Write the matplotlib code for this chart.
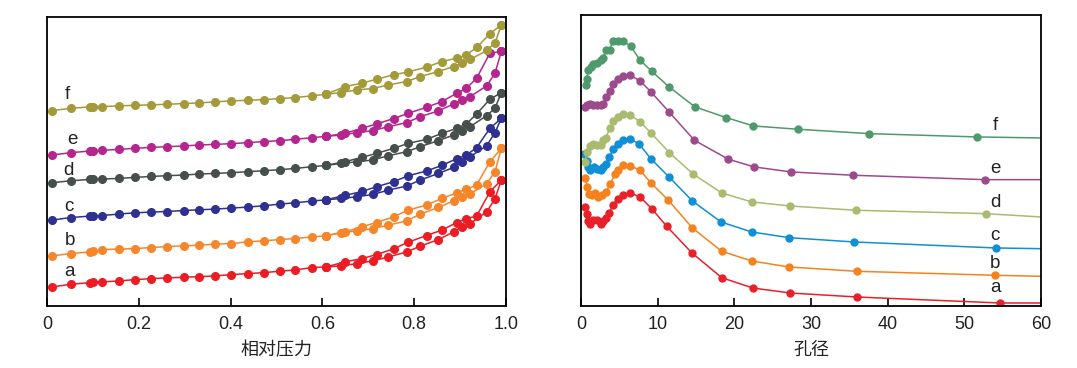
import matplotlib
matplotlib.use('Agg')
import matplotlib.pyplot as plt

plt.rcParams['font.family'] = ['Liberation Sans', 'Noto Sans CJK SC', 'DejaVu Sans']

labels = ['a', 'b', 'c', 'd', 'e', 'f']

# ---- left: isotherms (relative pressure vs adsorbed amount, arbitrary offset units)
iso_colors = ['#ec1c24', '#f7862a', '#2e3192', '#474f4c', '#b5258f', '#a39a3a']

x_low = [0.011, 0.052, 0.094, 0.100, 0.120, 0.156, 0.191, 0.227, 0.261, 0.298, 0.332,
         0.366, 0.401, 0.437, 0.472, 0.507, 0.541, 0.577, 0.608]
x_ads = [0.608, 0.641, 0.675, 0.710, 0.744, 0.784, 0.813, 0.853, 0.886, 0.904, 0.922,
         0.958, 0.976, 0.990]
x_des = [0.990, 0.965, 0.936, 0.914, 0.893, 0.860, 0.827, 0.787, 0.755, 0.718, 0.686,
         0.649, 0.608]

low_a = [19, 21.7, 23.3, 23.7, 24, 25, 26.3, 27.3, 28, 28.7, 29.3, 30, 31.3, 32.3, 33.3, 34.7, 36, 38.3, 39]
low_b = [50, 52.3, 54, 54.5, 56.3, 56.7, 57.3, 58.3, 59.3, 60, 60.7, 61.7, 62.3, 64, 65, 66.3, 67.3, 69, 70]
low_c = [85.7, 88.3, 89.7, 90, 90.3, 91.7, 93, 93.7, 94.3, 95.3, 96, 96.7, 97.7, 98.7, 100, 101.7, 103, 104.7, 106]
low_d = [123, 125, 126.3, 126.5, 126.7, 127.3, 128.3, 129.3, 130, 130.7, 131.7, 132.3, 133, 134, 135, 136, 137.3, 139, 140.3]
low_e = [150.7, 153, 154.7, 155, 155.3, 156.3, 157.3, 158.3, 159, 159.7, 160.7, 161.3, 162, 163, 164, 165, 166.3, 168, 169.3]
low_f = [195, 197.3, 198.7, 198.9, 199, 199.7, 200.3, 200.7, 201.3, 202, 202.7, 203.7, 204.7, 205.3, 206, 207, 208, 209.7, 211.3]

ads_a = [39, 40, 42.3, 45, 49, 54, 59.7, 66.3, 74, 79, 82.3, 94, 107, 125.7]
ads_b = [70, 73.3, 75, 77.3, 80.7, 85, 91.7, 98.3, 105, 109, 112, 122, 134, 157.3]
ads_c = [106, 107.3, 109, 111.3, 115.7, 119.7, 125.7, 132.3, 138.3, 144, 149, 160, 173, 187.3]
ads_d = [140.3, 142.3, 144, 145.7, 150, 154, 159, 165, 170.7, 175, 179, 190, 197.3, 213]
ads_e = [169.3, 170.7, 173, 175, 179, 183, 189, 194.7, 201.7, 205.7, 209, 219.7, 232.3, 254]
ads_f = [211.3, 213, 215.7, 217, 220.7, 224, 229, 234, 239, 242.3, 246, 255, 262.3, 280.7]

des_a = [125.7, 114, 89.7, 87.3, 83.3, 75.7, 70.3, 63.7, 57, 51.3, 47.3, 44, 39]
des_b = [157.3, 144, 120.7, 116.3, 113, 107.3, 100.7, 95.7, 89, 83.3, 79, 74, 70]
des_c = [187.3, 177.3, 158, 150.7, 147, 140.3, 134.7, 130, 124, 119, 114.3, 110.3, 106]
des_d = [213, 206.3, 191.7, 181.7, 177.3, 172.3, 166.3, 162.3, 157.3, 152.3, 148.3, 144, 140.3]
des_e = [254, 252.3, 227.3, 217.3, 212.3, 204, 198.3, 192.3, 187, 181.7, 177.3, 172.3, 169.3]
des_f = [280.7, 271.7, 258, 250.7, 247.3, 244, 238.3, 233.7, 230.7, 226.3, 222.3, 219, 211.3]

low_all = [low_a, low_b, low_c, low_d, low_e, low_f]
ads_all = [ads_a, ads_b, ads_c, ads_d, ads_e, ads_f]
des_all = [des_a, des_b, des_c, des_d, des_e, des_f]
iso_lab_x = [0.049, 0.051, 0.047, 0.047, 0.055, 0.044]
iso_lab_y = [34, 65.7, 99, 135.7, 165.7, 210.7]

# ---- right: pore size distribution
psd_colors = ['#e8202a', '#f4821f', '#0e8fd6', '#a9bb6e', '#9c4a8c', '#4f9a6c']

px_a = [0.52, 0.83, 0.96, 1.17, 1.61, 2.04, 2.57, 2.91, 3.26, 3.70, 4.13, 4.78, 5.52, 6.39,
        7.70, 9.22, 11.17, 14.43, 18.35, 22.39, 27.26, 35.96, 54.65, 60]
py_a = [99, 92.3, 85, 82.3, 86.3, 85.7, 82.3, 84.7, 88.3, 93.3, 100.7, 107.3, 111.3, 113,
        109, 97.3, 79.7, 53.3, 28.3, 18, 13, 9, 3, 3]
px_b = [0.52, 0.83, 1.09, 1.39, 1.83, 2.26, 2.70, 3.26, 3.78, 4.43, 4.87, 5.52, 6.39, 7.70,
        9.09, 11.39, 14.52, 18.35, 22.26, 27.13, 35.96, 54.0, 60]
py_b = [128.3, 119, 112.3, 110.7, 113, 109, 111.3, 114, 121.7, 131.7, 135.7, 140.7, 140.3,
        135.7, 123.3, 105.7, 78, 54.7, 45, 39, 34.7, 30.7, 29.7]
px_c = [0.39, 0.74, 0.96, 1.17, 1.70, 2.13, 2.57, 2.91, 3.26, 3.70, 4.22, 4.87, 5.52, 6.39,
        7.61, 9.09, 11.48, 14.52, 18.26, 22.26, 27.13, 35.61, 54.13, 60]
py_c = [152.3, 145, 139, 135.7, 139, 137.3, 135.7, 139, 142.3, 149, 157.3, 162.3, 166.3,
        167.3, 161.7, 147.3, 129, 105, 84, 74, 68.3, 64, 58, 57.3]
px_d = [0.52, 0.74, 1.17, 1.61, 2.04, 2.57, 2.91, 3.26, 3.78, 4.22, 4.87, 5.52, 6.39, 7.70,
        9.13, 11.52, 14.65, 18.35, 22.26, 27.26, 35.83, 52.78, 60]
py_d = [144, 154, 159.7, 162.3, 161.3, 160.7, 165.7, 168.3, 178.3, 184.7, 189, 191.7, 191.3,
        184, 173, 153.3, 131.7, 113, 104, 100, 95.7, 92.3, 89]
px_e = [0.52, 0.74, 1.17, 1.61, 2.04, 2.57, 2.91, 3.26, 3.78, 4.22, 4.87, 5.52, 6.39, 7.70,
        9.13, 11.48, 14.78, 19.22, 22.61, 27.39, 35.52, 52.7, 60]
py_e = [199, 200.7, 201.7, 201.3, 200.7, 200.7, 202.3, 209, 215, 221.7, 227.3, 230, 230.7,
        225, 214, 194, 165.7, 146.7, 139, 134, 130.7, 126.3, 126.3]
px_f = [0.65, 0.74, 0.96, 1.26, 1.61, 2.04, 2.57, 2.91, 3.26, 3.78, 4.13, 4.87, 5.52, 6.48,
        7.70, 9.22, 11.48, 14.87, 18.96, 22.48, 28.26, 37.61, 51.61, 60]
py_f = [220.7, 227.3, 235.7, 239, 241.7, 243.3, 245.7, 248, 256.3, 256.3, 265, 265, 264.7,
        259.7, 245.7, 234.7, 219, 199, 188.3, 180, 176.7, 172.3, 169, 168]

px_all = [px_a, px_b, px_c, px_d, px_e, px_f]
py_all = [py_a, py_b, py_c, py_d, py_e, py_f]
psd_lab_x = [54, 54, 54, 54, 54, 54]
psd_lab_y = [18, 42.3, 70.7, 103, 137.3, 180.7]


def style_axes(ax):
    for s in ax.spines.values():
        s.set_linewidth(1.3)
    ax.set_yticks([])
    ax.tick_params(axis='x', direction='in', length=6, width=1.2, labelsize=13,
                   pad=7, labelcolor='#222222')


fig = plt.figure(figsize=(10.77, 3.68), dpi=100)

#left graph
ax1 = fig.add_axes([0.0436, 0.1685, 0.4262, 0.785])
for i in range(6):
    c = iso_colors[i]
    ax1.plot(x_low, low_all[i], '-o', color=c, ms=5.5, lw=1.1)
    ax1.plot(x_ads, ads_all[i], '-o', color=c, ms=5.5, lw=1.1)
    ax1.plot(x_des, des_all[i], '-o', color=c, ms=5.5, lw=1.1)
    ax1.text(iso_lab_x[i], iso_lab_y[i], labels[i], fontsize=13.5, ha='center', va='center',
             color='#222222')
ax1.set_xlim(0, 1.0)
ax1.set_ylim(0, 288.3)
ax1.set_xticks([0, 0.2, 0.4, 0.6, 0.8, 1.0])
ax1.set_xticklabels(['0', '0.2', '0.4', '0.6', '0.8', '1.0'])
ax1.set_xlabel('相对压力', fontsize=13, labelpad=6, color='#222222',
               family=['Noto Sans CJK SC', 'DejaVu Sans'])
style_axes(ax1)

#right graph
ax2 = fig.add_axes([0.5395, 0.1685, 0.4271, 0.791])
for i in range(6):
    c = psd_colors[i]
    ax2.plot(px_all[i], py_all[i], '-o', color=c, ms=5, lw=1.1,
             markevery=slice(0, len(px_all[i]) - 1))
    ax2.text(psd_lab_x[i], psd_lab_y[i], labels[i], fontsize=13.5, ha='center', va='center',
             color='#222222')
ax2.set_xlim(0, 60)
ax2.set_ylim(0, 291)
ax2.set_xticks([0, 10, 20, 30, 40, 50, 60])
ax2.set_xlabel('孔径', fontsize=13, labelpad=6, color='#222222',
               family=['Noto Sans CJK SC', 'DejaVu Sans'])
style_axes(ax2)

fig.savefig('out.png', dpi=100)
